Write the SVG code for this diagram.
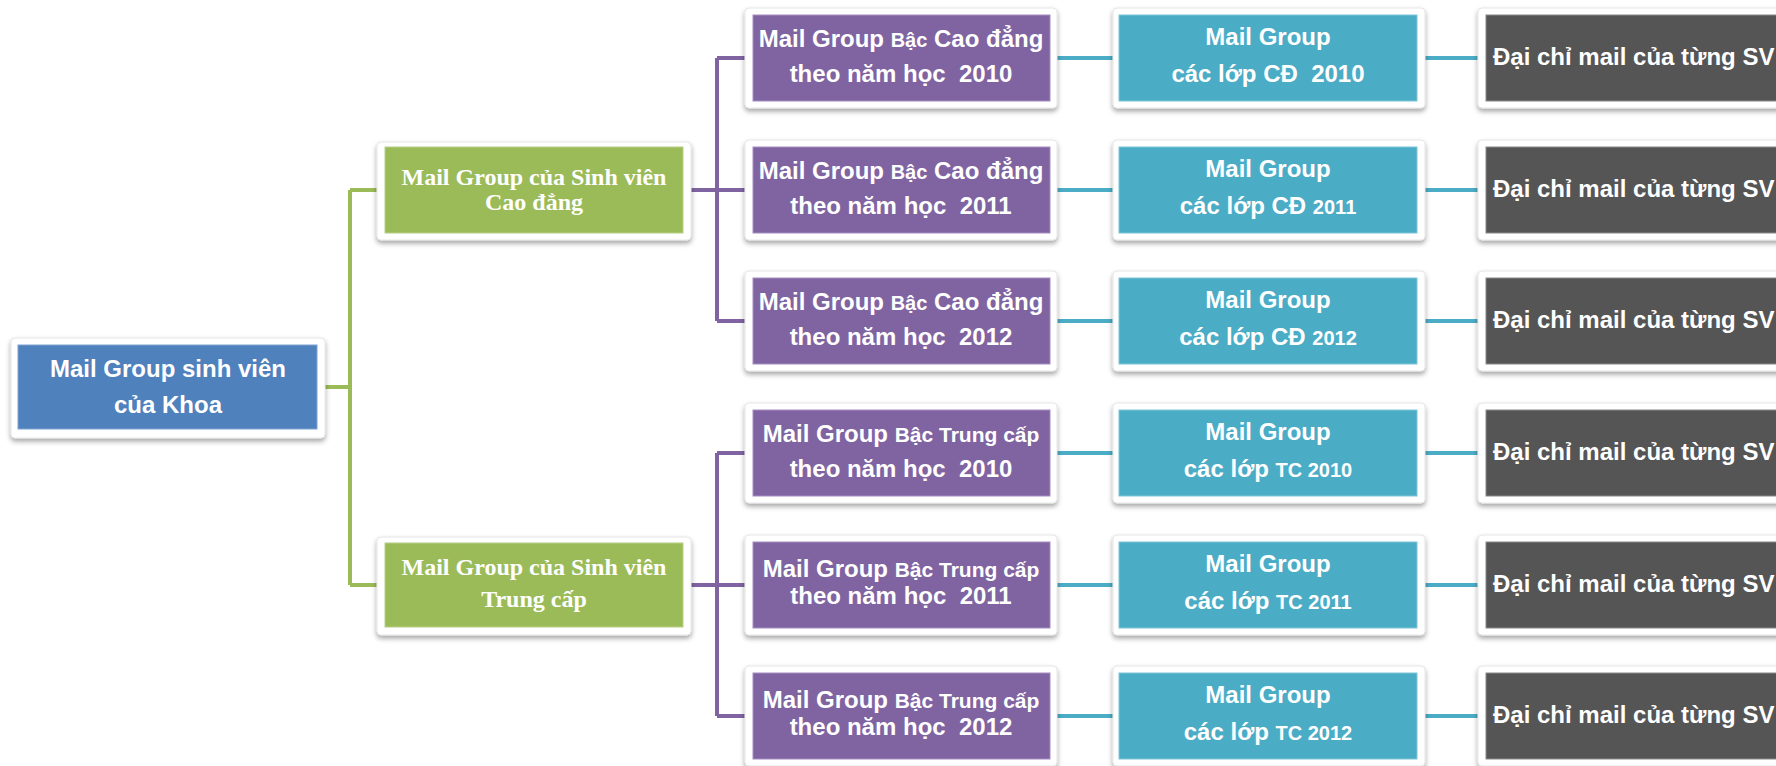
<svg xmlns="http://www.w3.org/2000/svg" width="1776" height="766" viewBox="0 0 1776 766">
<defs>
<filter id="sh" x="-10%" y="-20%" width="120%" height="150%">
<feDropShadow dx="0" dy="3" stdDeviation="2.5" flood-color="#000" flood-opacity="0.35"/>
</filter>
<style>
.frame{fill:#fff;stroke:#e6e6e6;stroke-width:1;filter:url(#sh)}
.root{fill:#4F81BD;stroke:#7ea3d1;stroke-width:1}
.grn{fill:#9BBB59;stroke:#b6cf85;stroke-width:1}
.pur{fill:#8064A2;stroke:#a58cc2;stroke-width:1}
.teal{fill:#4BACC6;stroke:#7fc6d9;stroke-width:1}
.dark{fill:#555555;stroke:#8a8a8a;stroke-width:1}
text{fill:#fff;font-family:"Liberation Sans",Arial,sans-serif;font-weight:bold;font-size:24px;white-space:pre}
.c{text-anchor:middle}
.serif{font-family:"Liberation Serif","Times New Roman",serif;font-size:24px}
.sm{font-size:20px}
.cal{font-size:21px}
.cg{stroke:#9BBB59;stroke-width:4;fill:none}
.cp{stroke:#8064A2;stroke-width:4;fill:none}
.ct{stroke:#4BACC6;stroke-width:4;fill:none}
</style>
</defs>
<rect width="1776" height="766" fill="#fff"/>
<g id="connectors">
<path class="cg" d="M325 387H350M350 190V585M350 190H377M350 585H377"/>
<path class="cp" d="M691 190H745M717 58V321M717 58H745M717 321H745"/>
<path class="cp" d="M691 585H745M717 453V716M717 453H745M717 716H745"/>
<path class="ct" d="M1057 58H1113M1057 190H1113M1057 321H1113M1057 453H1113M1057 585H1113M1057 716H1113"/>
<path class="ct" d="M1425 58H1478M1425 190H1478M1425 321H1478M1425 453H1478M1425 585H1478M1425 716H1478"/>
</g>
<g id="root">
<rect class="frame" x="11" y="338" width="314" height="100" rx="4"/>
<rect class="root" x="18" y="345" width="299" height="84"/>
<text class="c" x="168" y="377">Mail Group sinh viên</text>
<text class="c" x="168" y="413">của Khoa</text>
</g>
<g id="sv-cd">
<rect class="frame" x="377" y="142" width="314" height="98" rx="4"/>
<rect class="grn" x="385" y="147" width="298" height="86"/>
<text class="c serif" x="534" y="185">Mail Group của Sinh viên</text>
<text class="c serif" x="534" y="210">Cao đẳng</text>
</g>
<g id="sv-tc">
<rect class="frame" x="377" y="537" width="314" height="98" rx="4"/>
<rect class="grn" x="385" y="543" width="298" height="84"/>
<text class="c serif" x="534" y="575">Mail Group của Sinh viên</text>
<text class="c serif" x="534" y="607">Trung cấp</text>
</g>
<g id="cd-2010">
<rect class="frame" x="745" y="8" width="312" height="100" rx="4"/>
<rect class="pur" x="753" y="15" width="297" height="86"/>
<text class="c" x="901" y="47">Mail Group <tspan class="sm">Bậc</tspan> Cao đẳng</text>
<text class="c" x="901" y="82">theo năm học  2010</text>
</g>
<g id="cd-2011">
<rect class="frame" x="745" y="140" width="312" height="100" rx="4"/>
<rect class="pur" x="753" y="147" width="297" height="86"/>
<text class="c" x="901" y="179">Mail Group <tspan class="sm">Bậc</tspan> Cao đẳng</text>
<text class="c" x="901" y="214">theo năm học  2011</text>
</g>
<g id="cd-2012">
<rect class="frame" x="745" y="271" width="312" height="100" rx="4"/>
<rect class="pur" x="753" y="278" width="297" height="86"/>
<text class="c" x="901" y="310">Mail Group <tspan class="sm">Bậc</tspan> Cao đẳng</text>
<text class="c" x="901" y="345">theo năm học  2012</text>
</g>
<g id="tc-2010">
<rect class="frame" x="745" y="403" width="312" height="100" rx="4"/>
<rect class="pur" x="753" y="410" width="297" height="86"/>
<text class="c" x="901" y="442">Mail Group <tspan class="cal">Bậc Trung cấp</tspan></text>
<text class="c" x="901" y="477">theo năm học  2010</text>
</g>
<g id="tc-2011">
<rect class="frame" x="745" y="535" width="312" height="100" rx="4"/>
<rect class="pur" x="753" y="542" width="297" height="86"/>
<text class="c" x="901" y="577">Mail Group <tspan class="cal">Bậc Trung cấp</tspan></text>
<text class="c" x="901" y="604">theo năm học  2011</text>
</g>
<g id="tc-2012">
<rect class="frame" x="745" y="666" width="312" height="100" rx="4"/>
<rect class="pur" x="753" y="673" width="297" height="86"/>
<text class="c" x="901" y="708">Mail Group <tspan class="cal">Bậc Trung cấp</tspan></text>
<text class="c" x="901" y="735">theo năm học  2012</text>
</g>
<g id="lop-cd-2010">
<rect class="frame" x="1113" y="8" width="312" height="100" rx="4"/>
<rect class="teal" x="1119" y="15" width="298" height="86"/>
<text class="c" x="1268" y="45">Mail Group</text>
<text class="c" x="1268" y="82">các lớp CĐ  2010</text>
</g>
<g id="lop-cd-2011">
<rect class="frame" x="1113" y="140" width="312" height="100" rx="4"/>
<rect class="teal" x="1119" y="147" width="298" height="86"/>
<text class="c" x="1268" y="177">Mail Group</text>
<text class="c" x="1268" y="214">các lớp CĐ <tspan class="sm">2011</tspan></text>
</g>
<g id="lop-cd-2012">
<rect class="frame" x="1113" y="271" width="312" height="100" rx="4"/>
<rect class="teal" x="1119" y="278" width="298" height="86"/>
<text class="c" x="1268" y="308">Mail Group</text>
<text class="c" x="1268" y="345">các lớp CĐ <tspan class="sm">2012</tspan></text>
</g>
<g id="lop-tc-2010">
<rect class="frame" x="1113" y="403" width="312" height="100" rx="4"/>
<rect class="teal" x="1119" y="410" width="298" height="86"/>
<text class="c" x="1268" y="440">Mail Group</text>
<text class="c" x="1268" y="477">các lớp <tspan class="sm">TC 2010</tspan></text>
</g>
<g id="lop-tc-2011">
<rect class="frame" x="1113" y="535" width="312" height="100" rx="4"/>
<rect class="teal" x="1119" y="542" width="298" height="86"/>
<text class="c" x="1268" y="572">Mail Group</text>
<text class="c" x="1268" y="609">các lớp <tspan class="sm">TC 2011</tspan></text>
</g>
<g id="lop-tc-2012">
<rect class="frame" x="1113" y="666" width="312" height="100" rx="4"/>
<rect class="teal" x="1119" y="673" width="298" height="86"/>
<text class="c" x="1268" y="703">Mail Group</text>
<text class="c" x="1268" y="740">các lớp <tspan class="sm">TC 2012</tspan></text>
</g>
<g id="sv-1">
<rect class="frame" x="1478" y="8" width="320" height="100" rx="4"/>
<rect class="dark" x="1486" y="15" width="300" height="86"/>
<text x="1493" y="65">Đại chỉ mail của từng SV</text>
</g>
<g id="sv-2">
<rect class="frame" x="1478" y="140" width="320" height="100" rx="4"/>
<rect class="dark" x="1486" y="147" width="300" height="86"/>
<text x="1493" y="197">Đại chỉ mail của từng SV</text>
</g>
<g id="sv-3">
<rect class="frame" x="1478" y="271" width="320" height="100" rx="4"/>
<rect class="dark" x="1486" y="278" width="300" height="86"/>
<text x="1493" y="328">Đại chỉ mail của từng SV</text>
</g>
<g id="sv-4">
<rect class="frame" x="1478" y="403" width="320" height="100" rx="4"/>
<rect class="dark" x="1486" y="410" width="300" height="86"/>
<text x="1493" y="460">Đại chỉ mail của từng SV</text>
</g>
<g id="sv-5">
<rect class="frame" x="1478" y="535" width="320" height="100" rx="4"/>
<rect class="dark" x="1486" y="542" width="300" height="86"/>
<text x="1493" y="592">Đại chỉ mail của từng SV</text>
</g>
<g id="sv-6">
<rect class="frame" x="1478" y="666" width="320" height="100" rx="4"/>
<rect class="dark" x="1486" y="673" width="300" height="86"/>
<text x="1493" y="723">Đại chỉ mail của từng SV</text>
</g>
</svg>
